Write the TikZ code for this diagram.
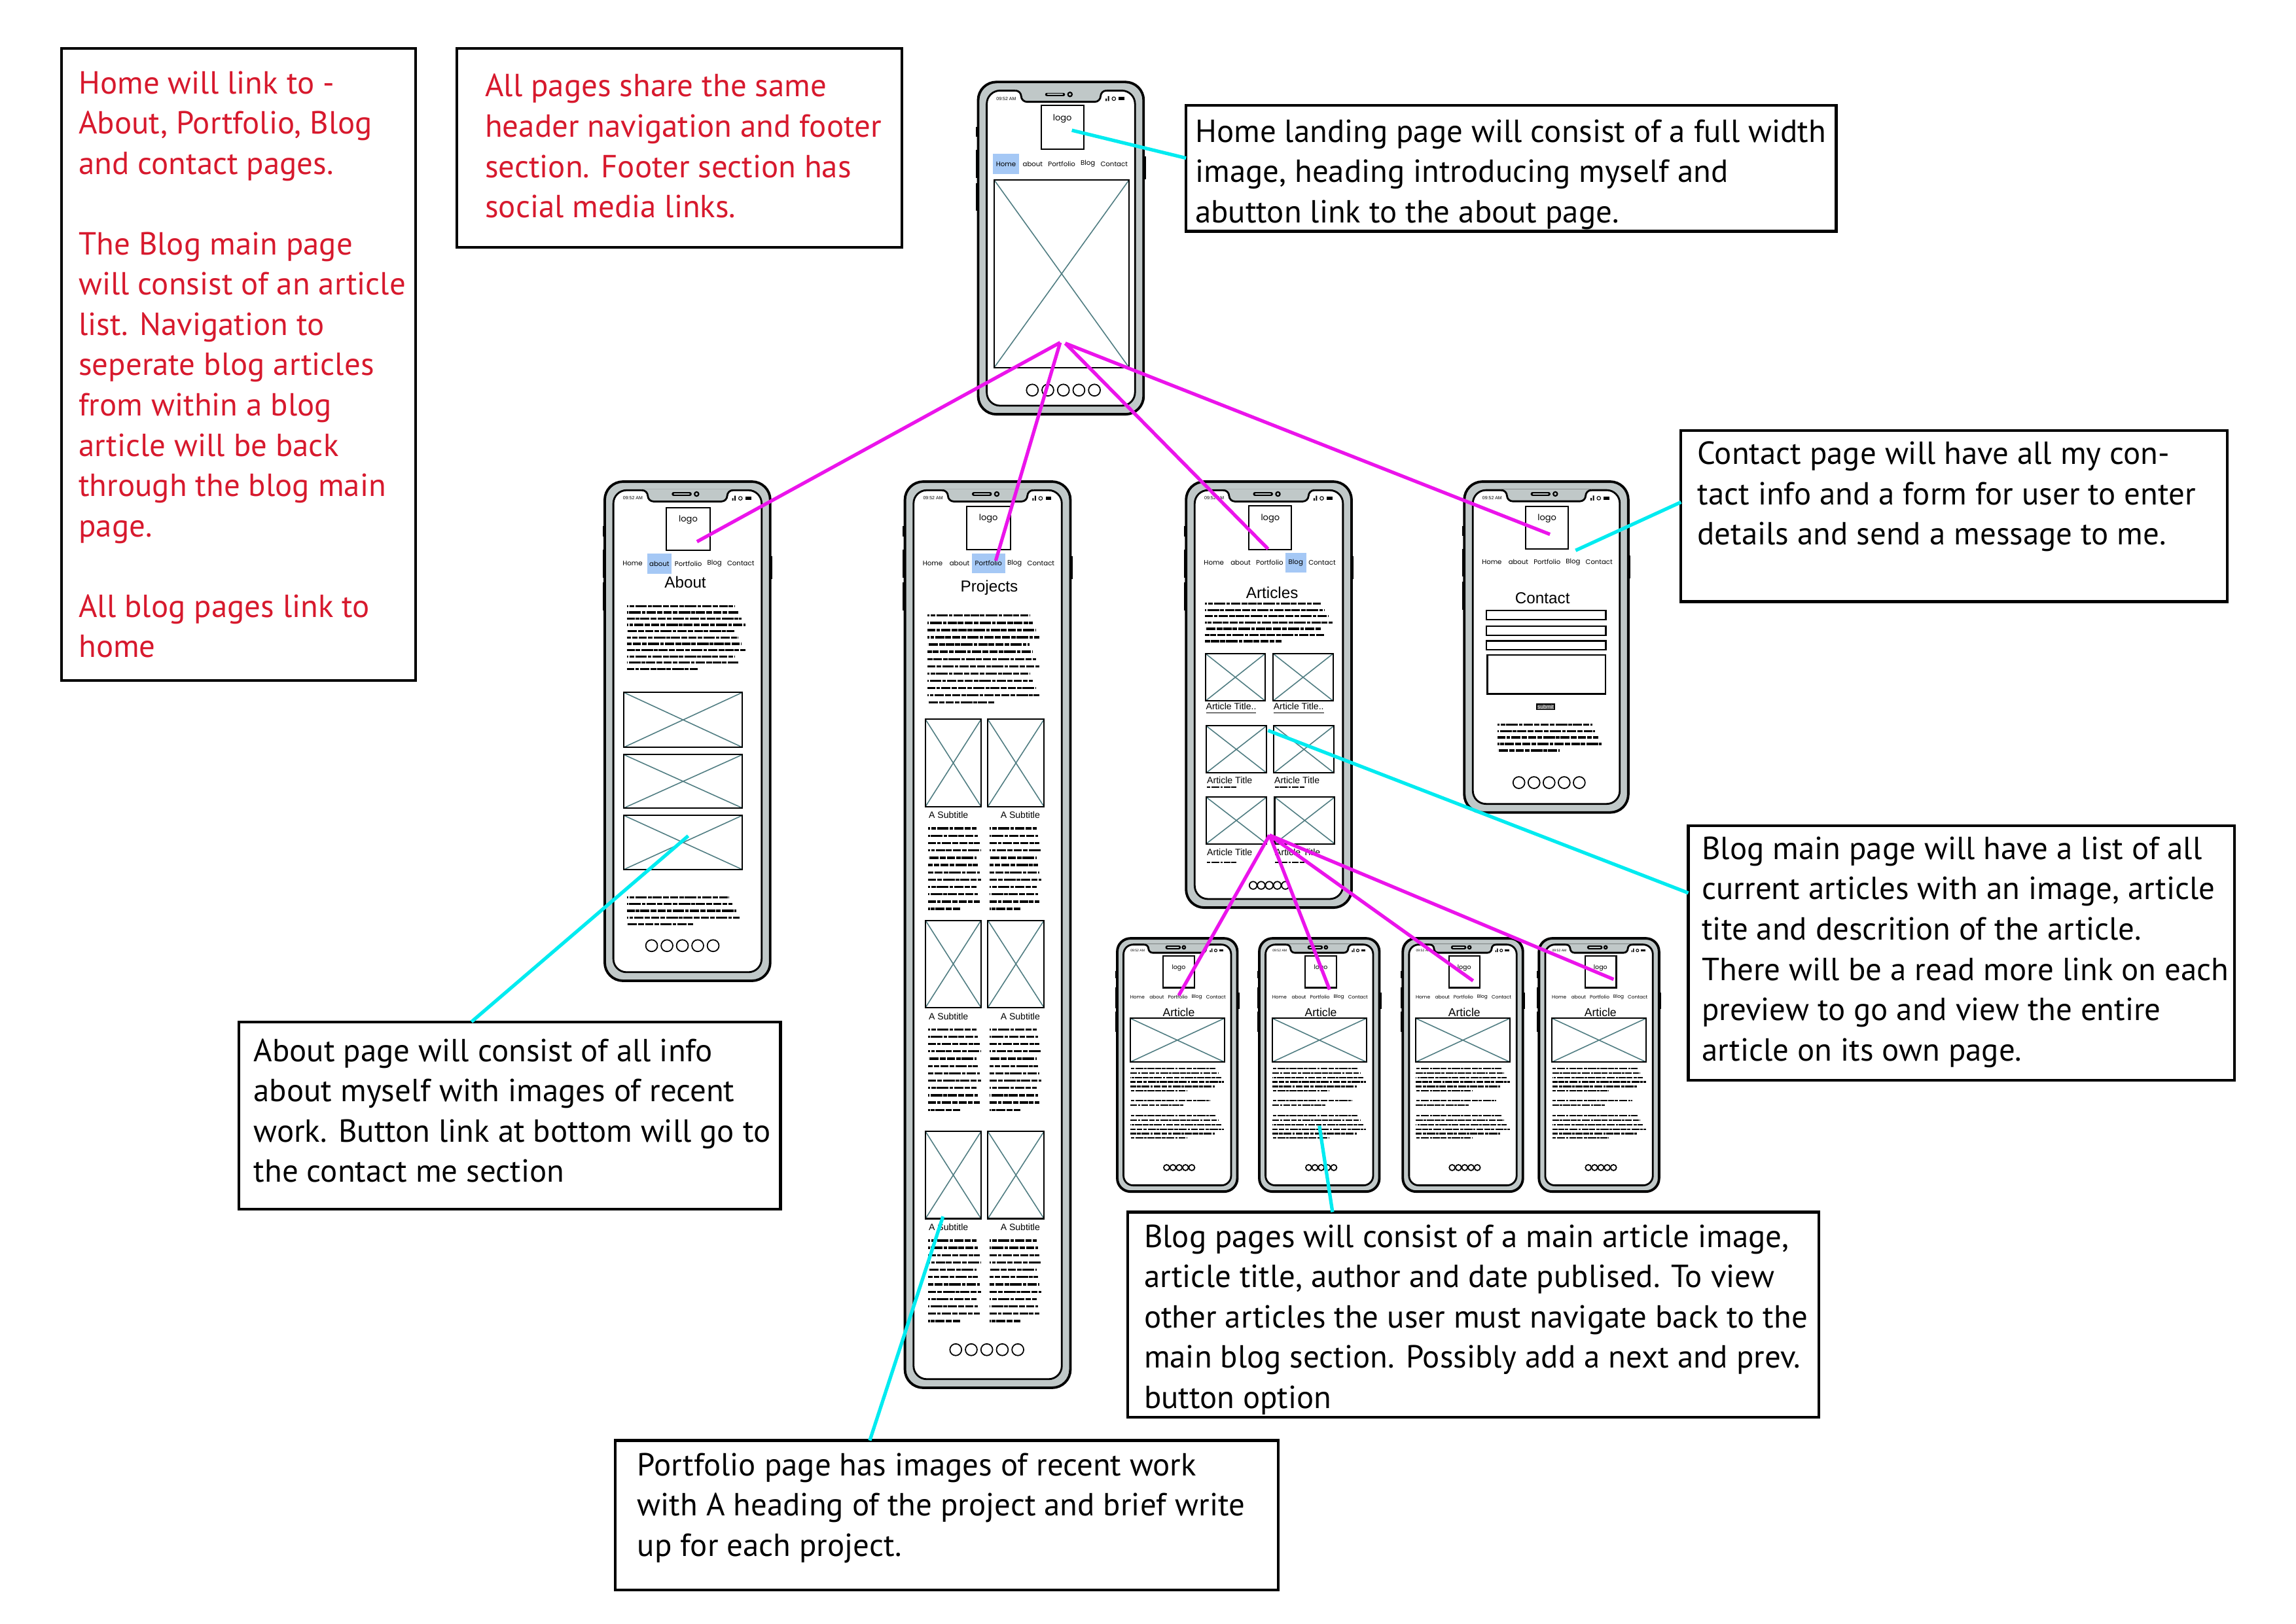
\documentclass[tikz,border=0pt]{standalone}
\usepackage{fontspec}
\setmainfont{PT Sans}
\newfontfamily\uifont{Poppins}
\newfontfamily\arfont{Liberation Sans}
\usetikzlibrary{fit}
\definecolor{bezel}{RGB}{192,200,200}
\definecolor{xteal}{RGB}{80,125,130}
\definecolor{navhl}{RGB}{165,200,245}
\definecolor{mag}{RGB}{235,20,235}
\definecolor{cyn}{RGB}{0,235,240}
\definecolor{redtxt}{RGB}{215,25,45}
\tikzset{
  annobox/.style={draw=black, line width=1.2pt, inner sep=0pt, fill=white},
  annotxt/.style={anchor=north west, inner sep=0pt, align=left, font=\fontsize{13.9}{17.5}\selectfont},
  magline/.style={draw=mag, line width=1.5pt},
  cynline/.style={draw=cyn, line width=1.5pt},
  imgframe/.style={draw=black, line width=0.6pt},
  xline/.style={draw=xteal, line width=0.45pt},
  ftline/.style={draw=black, line width=0.95pt, dash pattern=on 3.5pt off 0.5pt on 2pt off 0.5pt on 5pt off 0.5pt on 1.5pt off 0.5pt on 4pt off 0.5pt on 2.5pt off 0.5pt},
  ftsmall/.style={draw=black, line width=0.65pt, dash pattern=on 2.5pt off 0.4pt on 1.5pt off 0.4pt on 3.5pt off 0.4pt on 1pt off 0.4pt on 3pt off 0.4pt},
  logot/.style={inner sep=0pt, font=\uifont\fontsize{3.7}{3.7}\selectfont},
  logos/.style={inner sep=0pt, font=\uifont\fontsize{2.7}{2.7}\selectfont},
  titlet/.style={inner sep=0pt, font=\arfont\fontsize{6.9}{6.9}\selectfont},
  artt/.style={inner sep=0pt, font=\arfont\fontsize{5}{5}\selectfont},
  subt/.style={inner sep=0pt, anchor=west, font=\arfont\fontsize{4}{4}\selectfont},
  formbox/.style={draw=black, line width=0.7pt},
}
\newcommand{\phone}[4]{%
  \pgfmathsetmacro\pW{#3-#1}%
  \pgfmathsetmacro\pcx{(#1+#3)/2}%
  \pgfmathsetmacro\pd{0.052*\pW}%
  \pgfmathsetlengthmacro\pR{0.11*\pW*0.63655pt}%
  \pgfmathsetlengthmacro\pRi{0.08*\pW*0.63655pt}%
  \draw[line width=1.6pt] (#1-0.3,#2+0.27*\pW) -- (#1-0.3,#2+0.33*\pW)
     (#1-0.3,#2+0.41*\pW) -- (#1-0.3,#2+0.58*\pW)
     (#1-0.3,#2+0.61*\pW) -- (#1-0.3,#2+0.78*\pW)
     (#3+0.3,#2+0.45*\pW) -- (#3+0.3,#2+0.59*\pW);
  \draw[line width=1.1pt, fill=bezel, rounded corners=\pR] (#1,#2) rectangle (#3,#4);
  \draw[line width=0.8pt, fill=white, rounded corners=\pRi] (#1+\pd,#2+\pd) rectangle (#3-\pd,#4-\pd);
  \pgfmathsetmacro\nl{\pcx-0.24*\pW}\pgfmathsetmacro\nr{\pcx+0.24*\pW}%
  \pgfmathsetmacro\nt{#2+\pd}\pgfmathsetmacro\nb{#2+0.12*\pW}\pgfmathsetmacro\nk{0.035*\pW}%
  \fill[bezel] (\nl-\nk,\nt-0.6) -- (\nl-\nk,\nt) to[out=0,in=90] (\nl,\nt+\nk) -- (\nl,\nb-\nk)
     to[out=-90,in=180] (\nl+\nk,\nb) -- (\nr-\nk,\nb) to[out=0,in=-90] (\nr,\nb-\nk)
     -- (\nr,\nt+\nk) to[out=90,in=180] (\nr+\nk,\nt) -- (\nr+\nk,\nt-0.6) -- cycle;
  \draw[line width=0.8pt] (\nl-\nk,\nt) to[out=0,in=90] (\nl,\nt+\nk) -- (\nl,\nb-\nk)
     to[out=-90,in=180] (\nl+\nk,\nb) -- (\nr-\nk,\nb) to[out=0,in=-90] (\nr,\nb-\nk)
     -- (\nr,\nt+\nk) to[out=90,in=180] (\nr+\nk,\nt);
  \pgfmathsetmacro\sy{#2+0.075*\pW}%
  \pgfmathsetmacro\spa{\pcx-0.085*\pW}\pgfmathsetmacro\spb{\pcx+0.015*\pW}%
  \pgfmathsetmacro\spc{\pcx-0.08*\pW}\pgfmathsetmacro\spd{\pcx+0.01*\pW}%
  \pgfmathsetmacro\cam{\pcx+0.055*\pW}%
  \draw[line width=1.5pt, line cap=round] (\spa,\sy) -- (\spb,\sy);
  \draw[line width=0.5pt, line cap=round, bezel] (\spc,\sy) -- (\spd,\sy);
  \draw[line width=0.6pt, fill=bezel] (\cam,\sy) circle[radius=0.0125*\pW];
  \pgfmathsetmacro\nfs{2.0*\pW/113}%
  \pgfmathsetmacro\stx{#1+0.17*\pW}\pgfmathsetmacro\sty{#2+0.1*\pW}%
  \node[inner sep=0pt, font=\arfont\fontsize{\nfs}{\nfs}\selectfont] at (\stx,\sty) {09:52 AM};
  \pgfmathsetmacro\sx{#3-0.23*\pW}\pgfmathsetmacro\sby{#2+0.115*\pW}%
  \pgfmathsetmacro\sxa{\sx+0.014*\pW}\pgfmathsetmacro\sxb{\sx+0.05*\pW}\pgfmathsetmacro\sxc{\sx+0.08*\pW}%
  \pgfmathsetmacro\sbya{\sby-0.014*\pW}\pgfmathsetmacro\sbyb{\sby-0.004*\pW}%
  \fill (\sx,\sby) rectangle ++(0.008*\pW,-0.015*\pW) (\sxa,\sby) rectangle ++(0.008*\pW,-0.03*\pW);
  \draw[line width=0.3pt] (\sxb,\sbya) circle[radius=0.011*\pW];
  \fill (\sxc,\sbyb) rectangle ++(0.035*\pW,-0.02*\pW);
}
\newcommand{\ximg}[4]{\draw[xline] (#1,#2) -- (#3,#4) (#1,#4) -- (#3,#2); \draw[imgframe] (#1,#2) rectangle (#3,#4);}
\newcommand{\ftext}[6][ftline]{%
  \foreach \i in {1,...,#5}{%
    \pgfmathsetmacro\yy{#4+(\i-1)*#6}%
    \pgfmathsetmacro\xe{(\i==#5)*(#2+0.6*(#3-#2)) + (\i<#5)*(#3-mod(\i*3,4)*0.03*(#3-#2))}%
    \pgfmathsetmacro\ph{\i*2.7}%
    \draw[#1, dash phase=\ph pt] (#2,\yy) -- (\xe,\yy);
  }}
\newcommand{\pcircles}[4]{\foreach \k in {0,...,4}{\pgfmathsetmacro\pcxx{#1+\k*#2}\draw[line width=0.5pt] (\pcxx,#3) circle[radius=#4];}}
\newcommand{\navrow}[4]{%
  \pgfmathsetmacro\nfs{2.9*#3/113}%
  \pgfmathsetmacro\nya{#2-0.06*#3}\pgfmathsetmacro\nyb{#2+0.06*#3}%
  \foreach \o/\w/\hw [count=\c] in {-0.332/Home/0.08,-0.170/about/0.074,0.005/Portfolio/0.1,0.163/Blog/0.063,0.322/Contact/0.09}{%
    \pgfmathsetmacro\nx{#1+\o*#3}%
    \pgfmathsetmacro\nxa{\nx-\hw*#3}\pgfmathsetmacro\nxb{\nx+\hw*#3}%
    \ifnum\c=#4\relax \fill[navhl] (\nxa,\nya) rectangle (\nxb,\nyb);\fi
    \node[inner sep=0pt, font=\uifont\fontsize{\nfs}{\nfs}\selectfont] at (\nx,#2) {\w};
  }}
\begin{document}
\begin{tikzpicture}[x=0.022372cm, y=-0.022372cm]
\useasboundingbox (0,0) rectangle (1568,1109);
\fill[white] (0,0) rectangle (1568,1109);

% ---------- annotation boxes ----------
\node[annobox, fit={(42,33) (284,465)}] (b1) {};
\node[annobox, fit={(312,33) (616,169)}] (b2) {};
\node[annobox, fit={(810,72) (1254,158)}] (b3) {};
\node[annobox, fit={(1148,294) (1521,411)}] (b4) {};
\node[annobox, fit={(1153,564) (1526,738)}] (b5) {};
\node[annobox, fit={(163,698) (533,826)}] (b6) {};
\node[annobox, fit={(770,828) (1242,968)}] (b7) {};
\node[annobox, fit={(420,984) (873,1086)}] (b8) {};

\node[annotxt, text=redtxt] (t1) at (53.5,48.3) {Home will link to -\\About, Portfolio, Blog\\and contact pages.\\[17.5pt]The Blog main page\\will consist of an article\\list. Navigation to\\seperate blog articles\\from within a blog\\article will be back\\through the blog main\\page.\\[17.5pt]All blog pages link to\\home};
\node[annotxt, text=redtxt] (t2) at (331,50.3) {All pages share the same\\header navigation and footer\\section.  Footer section has\\social media links.};
\node[annotxt] (t3) at (816,81.3) {Home landing page will consist of a full width\\image, heading introducing myself and\\abutton link to the about page.};
\node[annotxt] (t4) at (1159,301.3) {Contact page will have all my con-\\tact info and a form for user to enter\\details and send a message to me.};
\node[annotxt] (t5) at (1162,571.3) {Blog main page will have a list of all\\current articles with an image, article\\tite and descrition of the article.\\There will be a read more link on each\\preview to go and view the entire\\article on its own page.};
\node[annotxt] (t6) at (173,709.3) {About page will consist of all info\\about myself with images of recent\\work. Button link at bottom will go to\\the contact me section};
\node[annotxt] (t7) at (781,836.3) {Blog pages will consist of a main article image,\\article title, author and date publised. To view\\other articles the user must navigate back to the\\main blog section. Possibly add a next and prev.\\button option};
\node[annotxt] (t8) at (435,992.3) {Portfolio page has images of recent work\\with A heading of the project and brief write\\up for each project.};

% ---------- Home phone ----------
\phone{668}{56}{781}{283}
\draw[imgframe] (711,72) rectangle (740,102);
\node[logot] (hlogo) at (725.5,81) {logo};
\navrow{724.5}{112}{113}{1}
\ximg{679}{123}{771}{251}
\pcircles{705}{10.6}{266.5}{4}

% ---------- About phone ----------
\phone{413}{329}{526}{670}
\draw[imgframe] (455,347) rectangle (485,376);
\node[logot] (alogo) at (470,355) {logo};
\navrow{469.5}{385}{113}{2}
\node[titlet] (atitle) at (468,397.6) {About};
\ftext{428}{509}{414}{11}{4.3}
\ximg{426}{473}{507}{510.5}
\ximg{426}{515.5}{507}{552}
\ximg{426}{557}{507}{594}
\ftext{428}{505}{613}{5}{4.6}
\pcircles{445}{10.5}{646}{4}

% ---------- Portfolio phone ----------
\phone{618}{329}{731}{948}
\draw[imgframe] (660,346) rectangle (690,375.6);
\node[logot] (plogo) at (675,354) {logo};
\navrow{674.5}{384.7}{113}{3}
\node[titlet] (ptitle) at (675.6,401.5) {Projects};
\ftext{633.5}{710}{420.5}{13}{4.95}
\foreach \yr [count=\rr] in {491.4,628.7,772.9}{
  \pgfmathsetmacro\yb{\yr+59.6}
  \pgfmathsetmacro\ys{\yr+65.5}
  \pgfmathsetmacro\yt{\yr+74.5}
  \ximg{632}{\yr}{670}{\yb}
  \ximg{674.6}{\yr}{713}{\yb}
  \node[subt] (psubl\rr) at (634,\ys) {A Subtitle};
  \node[subt] (psubr\rr) at (683,\ys) {A Subtitle};
  \ftext{634}{670}{\yt}{12}{5}
  \ftext{675.6}{711}{\yt}{12}{5}
}
\pcircles{652.7}{10.6}{922}{4}

% ---------- Blog phone ----------
\phone{810}{329}{923}{620}
\draw[imgframe] (853,345.7) rectangle (882,375.4);
\node[logot] (blogo) at (867.5,354) {logo};
\navrow{866.5}{384.4}{113}{4}
\node[titlet] (btitle) at (868.8,404.8) {Articles};
\ftext{823}{910}{412.4}{7}{4.27}
\ximg{823.3}{446.5}{864}{478.8}
\ximg{869.4}{446.5}{910.4}{478.8}
\node[subt] (bt1) at (823.3,484) {\underline{Article Title..}};
\node[subt] (bt2) at (869.4,484) {\underline{Article Title..}};
\ximg{823.7}{495.8}{865}{528}
\ximg{870}{495.8}{911}{528}
\node[subt] (bt3) at (824,533.2) {Article Title};
\node[subt] (bt4) at (870,533.2) {Article Title};
\ftext[ftsmall]{824}{858}{537.8}{1}{3}
\ftext[ftsmall]{870.6}{904}{537.8}{1}{3}
\ximg{823.7}{544.5}{865}{576.4}
\ximg{870.5}{544.5}{911.5}{576.4}
\node[subt] (bt5) at (824,582) {Article Title};
\node[subt] (bt6) at (870.5,582) {Article Title};
\ftext[ftsmall]{824}{858}{589}{1}{3}
\ftext[ftsmall]{870.6}{904}{589}{1}{3}
\pcircles{855.8}{5.5}{604.8}{2.6}

% ---------- Contact phone ----------
\phone{1000}{329}{1112}{555}
\draw[imgframe] (1042,345.8) rectangle (1071,375);
\node[logot] (clogo) at (1056.5,354) {logo};
\navrow{1056}{384}{112}{0}
\node[titlet] (ctitle) at (1053.4,408.7) {Contact};
\draw[formbox] (1015,417) rectangle (1096.6,423.2);
\draw[formbox] (1015,427.7) rectangle (1096.6,434);
\draw[formbox] (1015,437.8) rectangle (1096.6,443.8);
\draw[formbox] (1015.7,447.3) rectangle (1096.4,474);
\node[draw=black, line width=0.5pt, fill=black!70, text=white, inner sep=0.3pt, font=\arfont\fontsize{2.4}{2.4}\selectfont] (csub) at (1055.6,482.9) {submit};
\ftext{1022.7}{1093.7}{495}{5}{4.4}
\pcircles{1037.3}{10.3}{534.6}{4}

% ---------- Article phones ----------
\foreach \dx [count=\an] in {0,97,195,288}{
  \pgfmathsetmacro\ax{763+\dx}\pgfmathsetmacro\axx{845+\dx}
  \pgfmathsetmacro\la{794.4+\dx}\pgfmathsetmacro\lb{815.8+\dx}
  \pgfmathsetmacro\lc{805+\dx}\pgfmathsetmacro\nc{804+\dx}
  \pgfmathsetmacro\ia{771.8+\dx}\pgfmathsetmacro\ib{836.2+\dx}
  \pgfmathsetmacro\ta{772+\dx}\pgfmathsetmacro\tb{836+\dx}\pgfmathsetmacro\tc{832+\dx}
  \pgfmathsetmacro\ca{796.7+\dx}
  \phone{\ax}{641}{\axx}{814}
  \draw[imgframe] (\la,653) rectangle (\lb,674.7);
  \node[logos] (artlogo\an) at (\lc,661) {logo};
  \navrow{\nc}{681}{82}{0}
  \node[artt] (arttitle\an) at (\lc,691.5) {Article};
  \ximg{\ia}{695.6}{\ib}{725.5}
  \ftext[ftsmall]{\ta}{\tb}{729.9}{6}{3.06}
  \ftext[ftsmall]{\ta}{\tc}{751.8}{2}{3.1}
  \ftext[ftsmall]{\ta}{\tb}{762.2}{6}{3.04}
  \pcircles{\ca}{4.3}{797.6}{2}
}

% ---------- connector end points ----------
\coordinate (hubA) at (724,234);
\coordinate (hubB) at (727.5,234.5);
\coordinate (aboutIn) at (476,370);
\coordinate (portIn) at (680,383);
\coordinate (blogIn) at (866,375);
\coordinate (contIn) at (1058.5,365);
\coordinate (blogHub) at (867,570.5);
\coordinate (art1In) at (805,680);
\coordinate (art2In) at (908,676);
\coordinate (art3In) at (1006,670);
\coordinate (art4In) at (1102,669);
\coordinate (homePt) at (732,89);
\coordinate (b3In) at (810,108);
\coordinate (contPt) at (1076,376);
\coordinate (b4In) at (1148,343);
\coordinate (blogPt) at (866,499);
\coordinate (b5In) at (1153,610);
\coordinate (aboutPt) at (470,571);
\coordinate (b6In) at (322,698);
\coordinate (portPt) at (644,831);
\coordinate (b8In) at (594,984);
\coordinate (art2Pt) at (901,769);
\coordinate (b7In) at (910,828);

% ---------- magenta links ----------
\draw[magline] (hubA) -- (aboutIn);
\draw[magline] (hubA) -- (portIn);
\draw[magline] (hubB) -- (blogIn);
\draw[magline] (hubB) -- (contIn);
\draw[magline] (blogHub) -- (art1In);
\draw[magline] (blogHub) -- (art2In);
\draw[magline] (blogHub) -- (art3In);
\draw[magline] (blogHub) -- (art4In);

% ---------- cyan notes ----------
\draw[cynline] (homePt) -- (b3In);
\draw[cynline] (contPt) -- (b4In);
\draw[cynline] (blogPt) -- (b5In);
\draw[cynline] (aboutPt) -- (b6In);
\draw[cynline] (portPt) -- (b8In);
\draw[cynline] (art2Pt) -- (b7In);
\end{tikzpicture}
\end{document}
